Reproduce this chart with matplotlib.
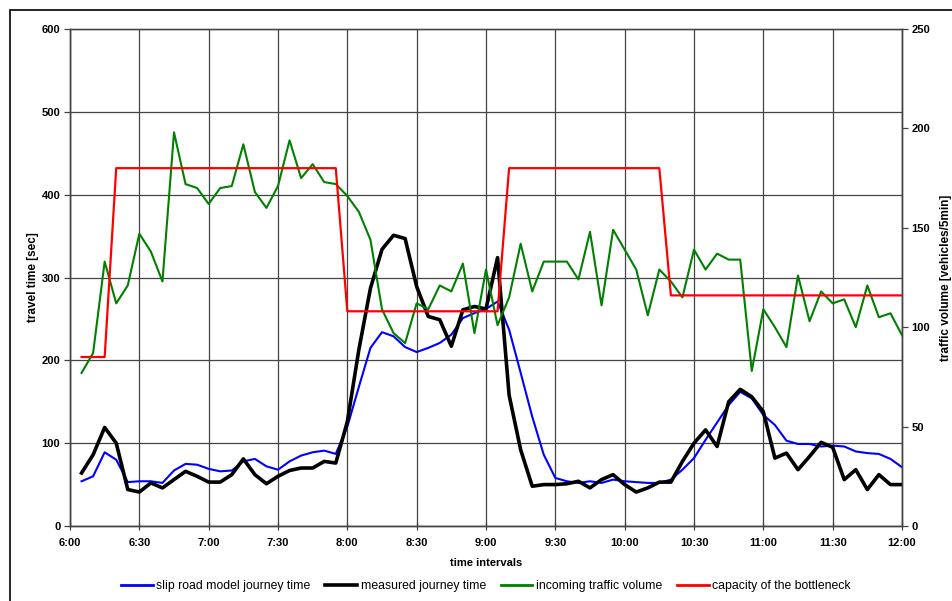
import numpy as np
import matplotlib
matplotlib.use('Agg')
import matplotlib.pyplot as plt
from matplotlib.lines import Line2D
from matplotlib.patches import Rectangle

plt.rcParams['font.family'] = ['Liberation Sans', 'DejaVu Sans']

# 5-minute intervals, 6:05 .. 12:00 (minutes after 6:00)
minutes = np.arange(5, 365, 5)
tick_labels = ['6:00', '6:30', '7:00', '7:30', '8:00', '8:30', '9:00', '9:30',
               '10:00', '10:30', '11:00', '11:30', '12:00']

model_time = [54, 60, 89, 80, 53, 54, 54, 52, 67, 75, 74, 69,
              66, 67, 78, 81, 72, 68, 78, 85, 89, 91, 87, 120,
              168, 215, 234, 229, 216, 210, 215, 221, 231, 251, 257, 262,
              271, 237, 185, 132, 86, 58, 54, 52, 54, 52, 56, 54,
              53, 52, 52, 56, 68, 82, 104, 125, 146, 162, 154, 134,
              122, 103, 99, 99, 96, 97, 96, 90, 88, 87, 81, 71]

measured_time = [64, 86, 119, 100, 44, 41, 52, 46, 56, 66, 60, 53,
                 53, 62, 81, 62, 51, 60, 67, 70, 70, 78, 76, 126,
                 213, 287, 334, 351, 347, 289, 253, 249, 217, 261, 265, 262,
                 324, 158, 92, 48, 50, 50, 51, 54, 46, 56, 62, 50,
                 41, 46, 53, 53, 78, 100, 116, 96, 150, 165, 156, 138,
                 82, 88, 68, 84, 101, 95, 56, 68, 44, 62, 50, 50]

traffic_volume = [77, 87, 133, 112, 121, 147, 138, 123, 198, 172, 170, 162,
                  170, 171, 192, 168, 160, 171, 194, 175, 182, 173, 172, 166,
                  158, 144, 109, 97, 92, 112, 109, 121, 118, 132, 97, 129,
                  101, 115, 142, 118, 133, 133, 133, 124, 148, 111, 149, 139,
                  129, 106, 129, 123, 115, 139, 129, 137, 134, 134, 78, 109,
                  100, 90, 126, 103, 118, 112, 114, 100, 121, 105, 107, 96]

capacity = [85, 85, 85] + [180] * 20 + [108] * 14 + [180] * 14 + [116] * 21

fig = plt.figure(figsize=(9.53, 6.01), dpi=100)
fig.patches.append(Rectangle((10 / 953, -0.1), 1.2, 1 - 10 / 601 + 0.1,
                             transform=fig.transFigure, fill=False,
                             edgecolor='black', linewidth=1.2))

ax = fig.add_axes([70 / 953, 1 - 526 / 601, (902 - 70) / 953, (526 - 29) / 601])
ax2 = ax.twinx()

ax.plot(minutes, model_time, color='#0000ff', lw=1.5, zorder=3)
ax.plot(minutes, measured_time, color='black', lw=2.6, zorder=4)
ax2.plot(minutes, traffic_volume, color='#008000', lw=1.5, zorder=3)
ax2.plot(minutes, capacity, color='#ff0000', lw=1.6, zorder=4)

ax.set_xlim(0, 360)
ax.set_ylim(0, 600)
ax2.set_ylim(0, 250)
ax.set_xticks(np.arange(0, 361, 30))
ax.set_xticklabels(tick_labels)
ax.set_yticks(np.arange(0, 601, 100))
ax2.set_yticks(np.arange(0, 251, 50))

ax.grid(True, color='#444444', lw=0.9)
ax.set_axisbelow(True)

for a in (ax, ax2):
    for s in a.spines.values():
        s.set_color('#444444')
        s.set_linewidth(1.0)
    a.tick_params(labelsize=8, length=4, width=0.9, color='#444444', pad=3)
    for lab in a.get_xticklabels() + a.get_yticklabels():
        lab.set_fontweight('bold')
ax.spines['top'].set_color('#999999')
ax.tick_params(axis='x', direction='inout', length=6, pad=6)

ax.set_ylabel('travel time [sec]', fontsize=8.5, fontweight='bold', labelpad=2)
ax2.set_ylabel('traffic volume [vehicles/5min]', fontsize=8.5, fontweight='bold', labelpad=7)
ax.set_xlabel('time intervals', fontsize=8, fontweight='bold', labelpad=7)

handles = [Line2D([], [], color='#0000ff', lw=2),
           Line2D([], [], color='black', lw=2.6),
           Line2D([], [], color='#008000', lw=2),
           Line2D([], [], color='#ff0000', lw=2)]
labels = ['slip road model journey time', 'measured journey time',
          'incoming traffic volume', 'capacity of the bottleneck']
fig.legend(handles, labels, loc='center', bbox_to_anchor=(0.51, 1 - 586 / 601),
           ncol=4, frameon=False, fontsize=8.8, handlelength=2.6,
           handletextpad=0.3, columnspacing=1.2)

fig.savefig('out.png', dpi=100)
